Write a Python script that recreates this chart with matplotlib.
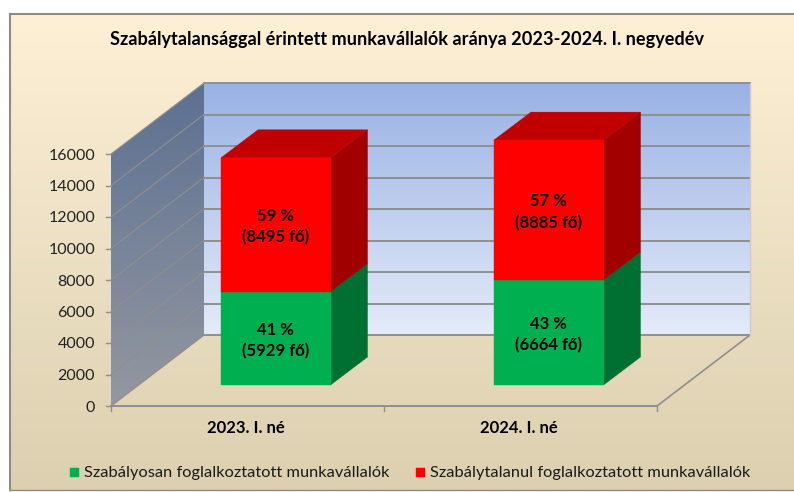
import numpy as np
import matplotlib
matplotlib.use("Agg")
import matplotlib.pyplot as plt
from matplotlib.patches import Polygon

# Adatok
categories = ["2023. I. né", "2024. I. né"]
regular = [5929, 6664]
irregular = [8495, 8885]
regular_labels = ["41 %\n(5929 fő)", "43 %\n(6664 fő)"]
irregular_labels = ["59 %\n(8495 fő)", "57 %\n(8885 fő)"]
yticks = [0, 2000, 4000, 6000, 8000, 10000, 12000, 14000, 16000]
title = "Szabálytalansággal érintett munkavállalók aránya 2023-2024. I. negyedév"
legend_names = ["Szabályosan foglalkoztatott munkavállalók", "Szabálytalanul foglalkoztatott munkavállalók"]

plt.rcParams['font.family'] = ['Lato', 'DejaVu Sans']

# A 3D-s nézet vetítése képpontokra
X0, Y0 = 111, 406
FRONT_W = 546
DEPTH_X, DEPTH_Y = 93, -71
PX_PER_UNIT = 252 / 16000
BAR_LEFT = [221, 494]
BAR_W = 109.5
BAR_DEPTH = (37, -28)
BAR_BASE_Y = 385


def val_y(v, base=Y0):
    return base - v * PX_PER_UNIT


def gradient(ax, extent, top, bottom, clip=None, horizontal=0.0):
    h = 128
    t = np.linspace(0, 1, h)[:, None]
    u = np.linspace(0, 1, h)[None, :]
    mix = np.clip(t + horizontal * (u - 0.5), 0, 1)[..., None]
    img = np.array(top)[None, None, :] * (1 - mix) + np.array(bottom)[None, None, :] * mix
    im = ax.imshow(img / 255, extent=extent, aspect='auto', zorder=1, interpolation='bilinear')
    if clip is not None:
        im.set_clip_path(clip)
    return im


fig = plt.figure(figsize=(7.94, 4.92), dpi=100)
ax = fig.add_axes([0, 0, 1, 1])
ax.axis('off')

# Háttér és keret
gradient(ax, [10, 794, 490, 14], (253, 240, 214), (220, 208, 176))
ax.plot([10, 10], [14, 490], color='#8c8c8c', lw=1.5, zorder=2)
ax.plot([10, 794], [14, 14], color='#8c8c8c', lw=1.5, zorder=2)
ax.plot([10, 794], [490, 490], color='#8c8c8c', lw=1.0, zorder=2)

# Hátsó fal
back_l, back_r = X0 + DEPTH_X, X0 + FRONT_W + DEPTH_X
back_bottom = Y0 + DEPTH_Y
back_top = val_y(16000, back_bottom)
wall = Polygon([(back_l, back_top), (back_r, back_top), (back_r, back_bottom), (back_l, back_bottom)],
               closed=True, transform=ax.transData, fc='none', ec='none')
ax.add_patch(wall)
gradient(ax, [back_l, back_r, back_bottom, back_top], (153, 178, 228), (228, 235, 248), clip=wall)

# Bal oldali fal
side = Polygon([(X0, val_y(16000)), (back_l, back_top), (back_l, back_bottom), (X0, Y0)],
               closed=True, transform=ax.transData, fc='none', ec='none')
ax.add_patch(side)
gradient(ax, [X0, back_l, Y0, back_top], (92, 112, 146), (148, 152, 160), clip=side)

grid_c = '#8f8f8f'
for v in yticks:
    y = val_y(v)
    if v > 0:
        ax.plot([X0, back_l], [y, val_y(v, back_bottom)], color=grid_c, lw=0.8, zorder=3)
    ax.plot([back_l, back_r], [val_y(v, back_bottom)] * 2, color=grid_c, lw=1.4, zorder=3)
    ax.plot([X0 - 5, X0], [y, y], color=grid_c, lw=1.0, zorder=3)
    ax.text(X0 - 16, y + 1.5, f"{v}", ha='right', va='center', fontsize=11.5, color='#222222', zorder=6)

# Padló
ax.plot([back_l, X0], [back_bottom, Y0], color=grid_c, lw=1.0, zorder=3)
ax.plot([back_r, X0 + FRONT_W], [back_bottom, Y0], color=grid_c, lw=1.2, zorder=3)
ax.plot([back_r, back_r], [back_top, back_bottom], color='#c8ccd2', lw=1.0, zorder=3)
ax.plot([X0, X0 + FRONT_W], [Y0, Y0], color=grid_c, lw=1.4, zorder=3)
for i in range(3):
    tx = X0 + FRONT_W * i / 2
    ax.plot([tx, tx], [Y0, Y0 + 5], color=grid_c, lw=1.0, zorder=3)


def box(x, y0, y1, front, top_c, side_c, with_top):
    dx, dy = BAR_DEPTH
    ax.add_patch(Polygon([(x + BAR_W, y0), (x + BAR_W + dx, y0 + dy), (x + BAR_W + dx, y1 + dy), (x + BAR_W, y1)],
                         fc=side_c, ec=side_c, lw=0.3, zorder=4))
    if with_top:
        ax.add_patch(Polygon([(x, y1), (x + dx, y1 + dy), (x + BAR_W + dx, y1 + dy), (x + BAR_W, y1)],
                             fc=top_c, ec=top_c, lw=0.3, zorder=4))
    ax.add_patch(Polygon([(x, y0), (x + BAR_W, y0), (x + BAR_W, y1), (x, y1)],
                         fc=front, ec=front, lw=0.3, zorder=5))


for i, x in enumerate(BAR_LEFT):
    y_mid = val_y(regular[i], BAR_BASE_Y)
    y_top = val_y(regular[i] + irregular[i], BAR_BASE_Y)
    box(x, BAR_BASE_Y, y_mid, '#00b050', '#008a3e', '#006f32', False)
    box(x, y_mid, y_top, '#ff0000', '#c00000', '#a00000', True)
    cx = x + BAR_W / 2
    ax.text(cx, (BAR_BASE_Y + y_mid) / 2 + 2, regular_labels[i], ha='center', va='center', fontsize=12,
            fontweight='bold', color='black', linespacing=1.4, zorder=6)
    ax.text(cx, (y_mid + y_top) / 2 + 2, irregular_labels[i], ha='center', va='center', fontsize=12,
            fontweight='bold', color='black', linespacing=1.4, zorder=6)
    ax.text(X0 + FRONT_W * (i + 0.5) / 2 - 2, 428, categories[i], ha='center', va='center', fontsize=12,
            fontweight='bold', color='black', zorder=6)

ax.text(407, 39, title, ha='center', va='center', fontsize=13.1, fontweight='bold', color='black', zorder=6)

# Jelmagyarázat
for x0, name, c in zip([70, 416], legend_names, ['#00b050', '#ff0000']):
    ax.add_patch(Polygon([(x0, 468), (x0 + 9, 468), (x0 + 9, 477), (x0, 477)], fc=c, ec=c, lw=0.3, zorder=6))
    ax.text(x0 + 14, 472.5, name, ha='left', va='center', fontsize=11.8, color='#1a1a1a', zorder=6)

ax.set_xlim(0, 794)
ax.set_ylim(492, 0)
fig.savefig("out.png", dpi=100)
